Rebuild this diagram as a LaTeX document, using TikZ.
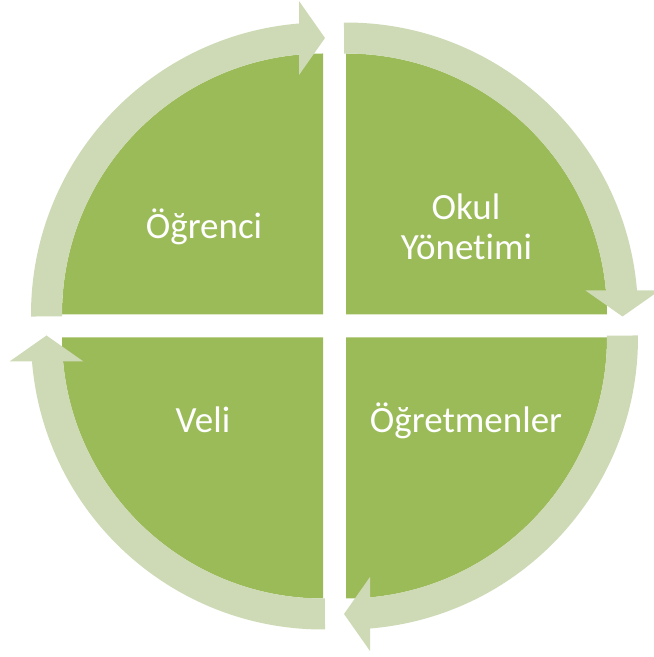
\documentclass[tikz,border=0pt]{standalone}
\usepackage{fontspec}
\setmainfont{Carlito}[Ligatures=CommonOff]
\definecolor{quadgreen}{HTML}{9BBB59}
\definecolor{arrowgreen}{HTML}{CDDAB5}
\begin{document}
\begin{tikzpicture}[x=1pt,y=1pt,
  quad/.style={fill=quadgreen,draw=none},
  cyclearrow/.style={fill=arrowgreen,draw=none},
  label/.style={text=white,font=\fontsize{37}{40}\selectfont,inner sep=0pt,anchor=base}]
\useasboundingbox (0,0) rectangle (654,657);
% quadrants
\fill[quad] (323,342.5) -- ++(-261,0) arc[start angle=180,end angle=90,radius=261] -- cycle;
\fill[quad] (346,342.5) -- ++(0,261) arc[start angle=90,end angle=0,radius=261] -- cycle;
\fill[quad] (346,319.5) -- ++(261,0) arc[start angle=0,end angle=-90,radius=261] -- cycle;
\fill[quad] (323,319.5) -- ++(0,-261) arc[start angle=270,end angle=180,radius=261] -- cycle;
% arrows
\foreach \cx/\cy/\rot in {323/342.5/0, 346/342.5/-90, 346/319.5/-180, 323/319.5/-270}{
  \begin{scope}[shift={(\cx,\cy)},rotate=\rot]
    \fill[cyclearrow] (180.4:292) arc[start angle=180.4,end angle=94,radius=292]
       -- (94:261) arc[start angle=94,end angle=180.4,radius=261] -- cycle;
    \fill[cyclearrow] (-24,239.5) -- (2,276.5) -- (-24,313.5) -- cycle;
  \end{scope}
}
% labels
\node[label] (ogrenci) at (204,418.5) {Öğrenci};
\node[label] (okul) at (466,437.2) {Okul};
\node[label] (yonetimi) at (466.5,397.6) {Yönetimi};
\node[label] (veli) at (203,224.5) {Veli};
\node[label] (ogretmenler) at (466,224.5) {Öğretmenler};
\end{tikzpicture}
\end{document}
